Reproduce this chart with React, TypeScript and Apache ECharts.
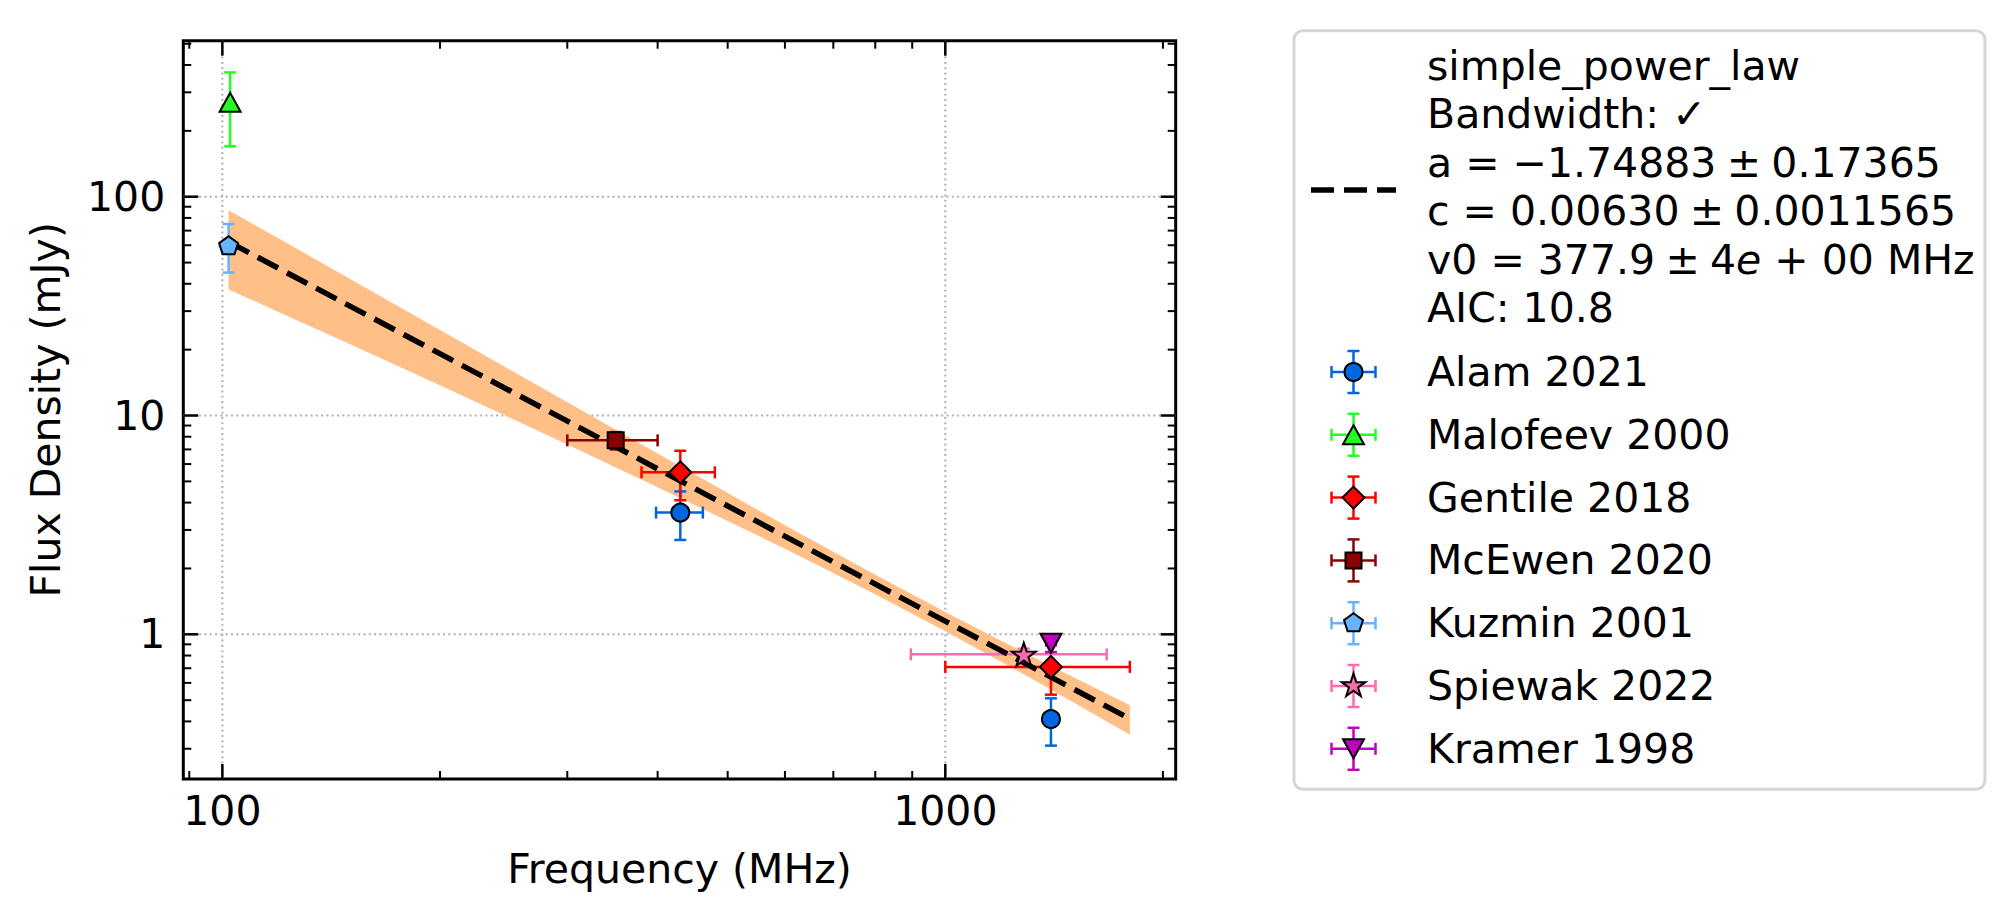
import React, { useEffect, useRef } from "react";
import * as echarts from "echarts";

const FONT = "'DejaVu Sans', 'Noto Sans', sans-serif";
const FS = 41;

// Axis extents (MHz, mJy)
const X_MIN = 88.3;
const X_MAX = 2083;
const Y_MIN = 0.2182;
const Y_MAX = 516.4;

// Tick positions
const majorX = [100, 1000];
const minorX = [90, 200, 300, 400, 500, 600, 700, 800, 900, 2000];
const majorY = [1, 10, 100];
const minorY = [
  0.3, 0.4, 0.5, 0.6, 0.7, 0.8, 0.9, 2, 3, 4, 5, 6, 7, 8, 9, 20, 30, 40, 50,
  60, 70, 80, 90, 200, 300, 400, 500,
];

// Measurements: frequency (MHz), flux density (mJy) and their errors
const alamFreq = [430, 1400];
const alamFlux = [3.6, 0.41];
const alamFreqErr = [32, 0];
const alamFluxErr = [0.9, 0.1];

const malofeevFreq = [102.5];
const malofeevFlux = [270];
const malofeevFreqErr = [0];
const malofeevFluxErr = [100];

const gentileFreq = [430, 1400];
const gentileFlux = [5.5, 0.71];
const gentileFreqErr = [50, 400];
const gentileFluxErr = [1.4, 0.18];

const mcewenFreq = [350];
const mcewenFlux = [7.7];
const mcewenFreqErr = [50];
const mcewenFluxErr = [0.7];

const kuzminFreq = [102];
const kuzminFlux = [60];
const kuzminFreqErr = [0];
const kuzminFluxErr = [15];

const spiewakFreq = [1284];
const spiewakFlux = [0.81];
const spiewakFreqErr = [388];
const spiewakFluxErr = [0.05];

const kramerFreq = [1400];
const kramerFlux = [0.91];
const kramerFreqErr = [0];
const kramerFluxErr = [0.08];

// Fitted simple power law and its 1-sigma envelope
const fitFreq = [102, 1800];
const fitFlux = [62.2, 0.411];
const bandFreq = [102, 120, 150, 200, 250, 300, 400, 500, 600, 800, 1000, 1200, 1400, 1800];
const bandUpper = [86.7, 64.0, 42.2, 24.6, 16.17, 11.49, 6.7, 4.42, 3.155, 1.871, 1.264, 0.927, 0.717, 0.474];
const bandLower = [37.7, 29.6, 21.2, 13.75, 9.77, 7.37, 4.7, 3.3, 2.459, 1.523, 1.033, 0.743, 0.559, 0.348];

// narrower spacing around the ± operator
const PM = "\u2005±\u2005";
const fitLabel = [
  "simple_power_law",
  "Bandwidth: ✓",
  `a = −1.74883${PM}0.17365`,
  `c = 0.00630${PM}0.0011565`,
  `{n|v0 = 377.9${PM}4}{i|e}{n| + 00 MHz}`,
  "AIC: 10.8",
];

const PENTAGON = "path://M0,-1L0.951,-0.309L0.588,0.809L-0.588,0.809L-0.951,-0.309Z";
const STAR =
  "path://M0,-1L0.2245,-0.309L0.951,-0.309L0.3633,0.118L0.588,0.809L0,0.382L-0.588,0.809L-0.3633,0.118L-0.951,-0.309L-0.2245,-0.309Z";

type Kind = "circle" | "triUp" | "diamond" | "square" | "pentagon" | "star" | "triDown";

const sources = [
  { name: "Alam 2021", freq: alamFreq, flux: alamFlux, fe: alamFreqErr, se: alamFluxErr, color: "#0066dd", kind: "circle" as Kind },
  { name: "Malofeev 2000", freq: malofeevFreq, flux: malofeevFlux, fe: malofeevFreqErr, se: malofeevFluxErr, color: "#22ff22", kind: "triUp" as Kind },
  { name: "Gentile 2018", freq: gentileFreq, flux: gentileFlux, fe: gentileFreqErr, se: gentileFluxErr, color: "#ff0000", kind: "diamond" as Kind },
  { name: "McEwen 2020", freq: mcewenFreq, flux: mcewenFlux, fe: mcewenFreqErr, se: mcewenFluxErr, color: "#8b0000", kind: "square" as Kind },
  { name: "Kuzmin 2001", freq: kuzminFreq, flux: kuzminFlux, fe: kuzminFreqErr, se: kuzminFluxErr, color: "#66b3ff", kind: "pentagon" as Kind },
  { name: "Spiewak 2022", freq: spiewakFreq, flux: spiewakFlux, fe: spiewakFreqErr, se: spiewakFluxErr, color: "#ff69b4", kind: "star" as Kind },
  { name: "Kramer 1998", freq: kramerFreq, flux: kramerFlux, fe: kramerFreqErr, se: kramerFluxErr, color: "#bf00bf", kind: "triDown" as Kind },
];

const symbolOf: Record<Kind, { symbol: string; size: number | number[]; rotate: number }> = {
  circle: { symbol: "circle", size: 18, rotate: 0 },
  triUp: { symbol: "triangle", size: [21, 19], rotate: 0 },
  diamond: { symbol: "diamond", size: 22, rotate: 0 },
  square: { symbol: "rect", size: 16, rotate: 0 },
  pentagon: { symbol: PENTAGON, size: [19, 18], rotate: 0 },
  star: { symbol: STAR, size: [24, 23], rotate: 0 },
  triDown: { symbol: "triangle", size: [21, 19], rotate: 180 },
};

const CAP = 6;
const ERR_W = 2.5;

function seg(x1: number, y1: number, x2: number, y2: number, stroke: string, w: number, dash?: number[]) {
  return {
    type: "line",
    shape: { x1, y1, x2, y2 },
    style: { stroke, lineWidth: w, lineDash: dash, lineCap: "butt" },
    silent: true,
  };
}

// Legend glyph drawn as plain graphic shapes
function glyph(kind: Kind, cx: number, cy: number, fill: string) {
  const style = { fill, stroke: "#000", lineWidth: 2 };
  const unitPoly = (pts: number[][], sx: number, sy: number) =>
    pts.map(([a, b]) => [cx + a * sx, cy + b * sy]);
  switch (kind) {
    case "circle":
      return { type: "circle", shape: { cx, cy, r: 9 }, style };
    case "square":
      return { type: "rect", shape: { x: cx - 8, y: cy - 8, width: 16, height: 16 }, style };
    case "diamond":
      return { type: "polygon", shape: { points: unitPoly([[0, -1], [1, 0], [0, 1], [-1, 0]], 11, 11) }, style };
    case "triUp":
      return { type: "polygon", shape: { points: unitPoly([[0, -1], [1, 1], [-1, 1]], 10.5, 9.5) }, style };
    case "triDown":
      return { type: "polygon", shape: { points: unitPoly([[0, 1], [1, -1], [-1, -1]], 10.5, 9.5) }, style };
    case "pentagon":
      return {
        type: "polygon",
        shape: { points: unitPoly([[0, -1], [0.951, -0.309], [0.588, 0.809], [-0.588, 0.809], [-0.951, -0.309]], 10, 10) },
        style,
      };
    case "star":
    default:
      return {
        type: "polygon",
        shape: {
          points: unitPoly(
            [[0, -1], [0.2245, -0.309], [0.951, -0.309], [0.3633, 0.118], [0.588, 0.809], [0, 0.382], [-0.588, 0.809], [-0.3633, 0.118], [-0.951, -0.309], [-0.2245, -0.309]],
            12.5,
            12.5
          ),
        },
        style,
      };
  }
}

function buildLegend() {
  const L = { x: 1294, y: 30.7, w: 691, h: 758.6 };
  const els: any[] = [];
  els.push({
    type: "rect",
    shape: { x: L.x, y: L.y, width: L.w, height: L.h, r: 9 },
    style: { fill: "#ffffff", stroke: "#d6d6d6", lineWidth: 3 },
    silent: true,
  });
  // fit entry
  els.push(seg(1311, 190, 1396, 190, "#000", 5.5, [23, 10]));
  fitLabel.forEach((t, i) => {
    els.push({
      type: "text",
      x: 1427,
      y: 66 + 48.4 * i,
      silent: true,
      style: {
        text: t,
        fill: "#000",
        fontSize: FS,
        fontFamily: FONT,
        verticalAlign: "middle",
        align: "left",
        rich: {
          n: { fontSize: FS, fontFamily: FONT, fill: "#000" },
          i: { fontSize: FS, fontFamily: FONT, fill: "#000", fontStyle: "italic" },
        },
      },
    });
  });
  // data entries
  sources.forEach((s, i) => {
    const cy = 372 + 62.8 * i;
    const cx = 1353.5;
    els.push(seg(cx - 22, cy, cx + 22, cy, s.color, ERR_W));
    els.push(seg(cx - 22, cy - CAP, cx - 22, cy + CAP, s.color, ERR_W));
    els.push(seg(cx + 22, cy - CAP, cx + 22, cy + CAP, s.color, ERR_W));
    els.push(seg(cx, cy - 21, cx, cy + 21, s.color, ERR_W));
    els.push(seg(cx - CAP, cy - 21, cx + CAP, cy - 21, s.color, ERR_W));
    els.push(seg(cx - CAP, cy + 21, cx + CAP, cy + 21, s.color, ERR_W));
    els.push({ ...glyph(s.kind, cx, cy, s.color), silent: true });
    els.push({
      type: "text",
      x: 1427,
      y: cy,
      silent: true,
      style: { text: s.name, fill: "#000", fontSize: FS, fontFamily: FONT, verticalAlign: "middle", align: "left" },
    });
  });
  return els;
}

function buildOption() {
  const series: any[] = [];

  // dotted grid at major ticks
  series.push({
    type: "custom",
    z: 1,
    silent: true,
    data: [[X_MIN, Y_MIN]],
    renderItem: (params: any, api: any) => {
      const cs = params.coordSys;
      const children: any[] = [];
      majorX.forEach((v) => {
        const px = api.coord([v, 1])[0];
        children.push(seg(px, cs.y, px, cs.y + cs.height, "#b0b0b0", 2, [2, 3.3]));
      });
      majorY.forEach((v) => {
        const py = api.coord([100, v])[1];
        children.push(seg(cs.x, py, cs.x + cs.width, py, "#b0b0b0", 2, [2, 3.3]));
      });
      return { type: "group", children };
    },
  });

  // uncertainty envelope of the fit
  series.push({
    type: "custom",
    z: 2,
    silent: true,
    data: [[bandFreq[0], bandUpper[0]]],
    renderItem: (_params: any, api: any) => {
      const pts: number[][] = [];
      bandFreq.forEach((f, i) => pts.push(api.coord([f, bandUpper[i]])));
      for (let i = bandFreq.length - 1; i >= 0; i--) pts.push(api.coord([bandFreq[i], bandLower[i]]));
      return { type: "polygon", shape: { points: pts }, style: { fill: "#ffbf87", stroke: null } };
    },
  });

  // error bars
  sources.forEach((s) => {
    series.push({
      type: "custom",
      name: s.name,
      z: 3,
      silent: true,
      encode: { x: 0, y: 1 },
      data: s.freq.map((f, i) => [f, s.flux[i], s.fe[i], s.se[i]]),
      renderItem: (_params: any, api: any) => {
        const x = api.value(0);
        const y = api.value(1);
        const xe = api.value(2);
        const ye = api.value(3);
        const children: any[] = [];
        if (xe > 0) {
          const l = api.coord([x - xe, y]);
          const r = api.coord([x + xe, y]);
          children.push(seg(l[0], l[1], r[0], r[1], s.color, ERR_W));
          children.push(seg(l[0], l[1] - CAP, l[0], l[1] + CAP, s.color, ERR_W));
          children.push(seg(r[0], r[1] - CAP, r[0], r[1] + CAP, s.color, ERR_W));
        }
        if (ye > 0) {
          const t = api.coord([x, y + ye]);
          const b = api.coord([x, y - ye]);
          children.push(seg(t[0], t[1], b[0], b[1], s.color, ERR_W));
          children.push(seg(t[0] - CAP, t[1], t[0] + CAP, t[1], s.color, ERR_W));
          children.push(seg(b[0] - CAP, b[1], b[0] + CAP, b[1], s.color, ERR_W));
        }
        return { type: "group", children };
      },
    });
  });

  // fitted power law
  series.push({
    type: "line",
    name: "simple_power_law",
    z: 4,
    silent: true,
    showSymbol: false,
    symbol: "none",
    data: fitFreq.map((f, i) => [f, fitFlux[i]]),
    lineStyle: { color: "#000", width: 5.5, type: [23, 10], cap: "butt" },
  });

  // markers
  sources.forEach((s) => {
    const sym = symbolOf[s.kind];
    series.push({
      type: "scatter",
      name: s.name,
      z: 5,
      silent: true,
      symbol: sym.symbol,
      symbolSize: sym.size,
      symbolRotate: sym.rotate,
      data: s.freq.map((f, i) => [f, s.flux[i]]),
      itemStyle: { color: s.color, borderColor: "#000", borderWidth: 2, opacity: 1 },
    });
  });

  // inward ticks on all four sides
  series.push({
    type: "custom",
    z: 6,
    silent: true,
    data: [[X_MIN, Y_MIN]],
    renderItem: (params: any, api: any) => {
      const cs = params.coordSys;
      const top = cs.y;
      const bottom = cs.y + cs.height;
      const left = cs.x;
      const right = cs.x + cs.width;
      const children: any[] = [];
      const xt = (v: number, len: number, w: number) => {
        const px = api.coord([v, 1])[0];
        children.push(seg(px, bottom, px, bottom - len, "#000", w));
        children.push(seg(px, top, px, top + len, "#000", w));
      };
      const yt = (v: number, len: number, w: number) => {
        const py = api.coord([100, v])[1];
        children.push(seg(left, py, left + len, py, "#000", w));
        children.push(seg(right, py, right - len, py, "#000", w));
      };
      majorX.forEach((v) => xt(v, 15, 2.5));
      minorX.forEach((v) => xt(v, 8, 2));
      majorY.forEach((v) => yt(v, 15, 2.5));
      minorY.forEach((v) => yt(v, 8, 2));
      return { type: "group", children };
    },
  });

  const labelStyle = {
    fontSize: FS,
    fontFamily: FONT,
    color: "#000",
    showMinLabel: false,
    showMaxLabel: false,
  };

  return {
    animation: false,
    backgroundColor: "#ffffff",
    textStyle: { fontFamily: FONT },
    grid: {
      left: 183.3,
      top: 40.7,
      width: 992.4,
      height: 738.3,
      show: true,
      borderColor: "#000",
      borderWidth: 3,
      backgroundColor: "transparent",
    },
    xAxis: {
      type: "log",
      logBase: 10,
      min: X_MIN,
      max: X_MAX,
      name: "Frequency (MHz)",
      nameLocation: "middle",
      nameGap: 90,
      nameTextStyle: { fontSize: FS, fontFamily: FONT, color: "#000", verticalAlign: "middle" },
      axisLine: { show: false },
      axisTick: { show: false },
      minorTick: { show: false },
      splitLine: { show: false },
      axisLabel: {
        ...labelStyle,
        margin: 11,
        lineHeight: 41,
        formatter: (v: number) => String(Math.round(v)),
      },
    },
    yAxis: {
      type: "log",
      logBase: 10,
      min: Y_MIN,
      max: Y_MAX,
      name: "Flux Density (mJy)",
      nameLocation: "middle",
      nameGap: 137.5,
      nameTextStyle: { fontSize: FS, fontFamily: FONT, color: "#000", verticalAlign: "middle" },
      axisLine: { show: false },
      axisTick: { show: false },
      minorTick: { show: false },
      splitLine: { show: false },
      axisLabel: {
        ...labelStyle,
        margin: 18,
        formatter: (v: number) => {
          const r = Math.round(v * 1000) / 1000;
          return String(r);
        },
      },
    },
    series,
    graphic: buildLegend(),
  };
}

export default function App() {
  const ref = useRef<HTMLDivElement>(null);
  useEffect(() => {
    if (!ref.current) return;
    const chart = echarts.init(ref.current, undefined, { renderer: "svg" });
    chart.setOption(buildOption() as any);
    return () => chart.dispose();
  }, []);
  return (
    <div
      ref={ref}
      style={{ position: "absolute", left: 0, top: 0, width: 2015, height: 924, background: "#ffffff" }}
    />
  );
}
